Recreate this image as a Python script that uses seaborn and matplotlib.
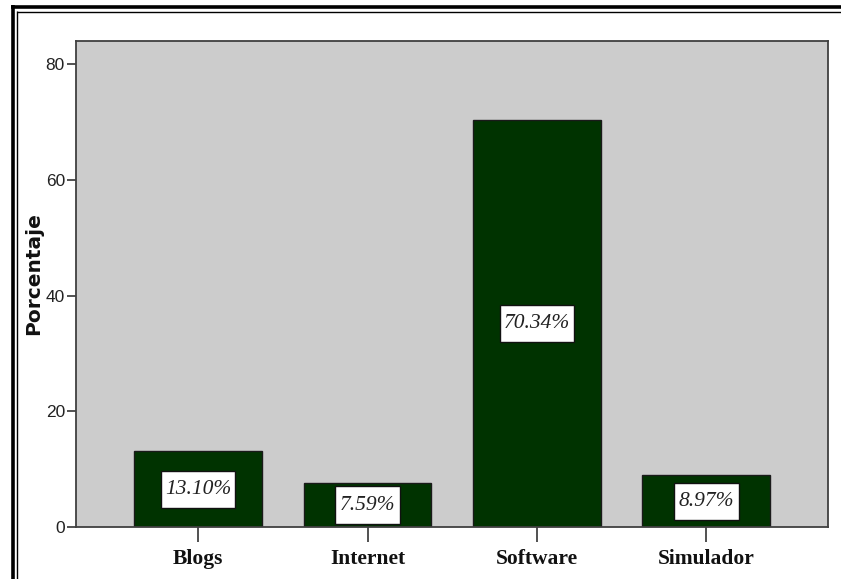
import matplotlib
matplotlib.use("Agg")
import matplotlib.pyplot as plt
from matplotlib.lines import Line2D
from matplotlib.path import Path
import seaborn as sns
import pandas as pd

categories = ["Blogs", "Internet", "Software", "Simulador"]
values = [13.10, 7.59, 70.34, 8.97]
value_labels = ["13.10%", "7.59%", "70.34%", "8.97%"]
y_ticks = [0, 20, 40, 60, 80]

df = pd.DataFrame({"cat": categories, "val": values})

sns.set_style("white")
W, H = 841, 579
fig = plt.figure(figsize=(W / 100, H / 100), dpi=100)
fig.patch.set_facecolor("white")

ax = fig.add_axes([76 / W, 1 - 527 / H, (828 - 76) / W, (527 - 40.7) / H])
sns.barplot(data=df, x="cat", y="val", order=categories, color="#003300",
            saturation=1, width=0.755, edgecolor="#1a1a1a", linewidth=1.0, ax=ax)
ax.set_facecolor("#cccccc")
ax.set_xlim(-0.72, 3.717)
ax.set_ylim(0, 84.03)
ax.set_yticks(y_ticks)
ax.set_yticklabels([str(t) for t in y_ticks],
                   fontdict={"family": ["Liberation Sans Narrow", "Liberation Sans"], "size": 12.5},
                   color="#222222")
ax.set_xticks(range(len(categories)))
ax.set_xticklabels(categories,
                   fontdict={"family": ["Liberation Serif", "DejaVu Serif"], "size": 15.5,
                             "weight": "bold"}, color="#111111")
ax.tick_params(axis="y", direction="out", length=6.5, width=1.2, color="#333333", pad=1.5, left=True)
ax.tick_params(axis="x", direction="out", length=10.8, width=1.2, color="#333333", pad=5, bottom=True)
ax.set_xlabel("")
ax.set_ylabel("Porcentaje", fontdict={"family": ["DejaVu Sans"], "size": 14.5, "weight": "bold"},
              color="#111111")
ax.yaxis.set_label_coords(-0.044, 0.522)
for s in ax.spines.values():
    s.set_visible(True)
    s.set_color("#404040")
    s.set_linewidth(1.3)


def tall_box(x0, y0, width, height, mutation_size):
    px = 0.2 * mutation_size
    py = 0.42 * mutation_size
    x0, x1 = x0 - px, x0 + width + px
    y0, y1 = y0 - py, y0 + height + py
    return Path([(x0, y0), (x1, y0), (x1, y1), (x0, y1), (x0, y0)],
                [Path.MOVETO, Path.LINETO, Path.LINETO, Path.LINETO, Path.CLOSEPOLY])


for i, (v, lab) in enumerate(zip(values, value_labels)):
    ax.text(i, v / 2, lab, ha="center", va="center",
            fontdict={"family": ["Liberation Serif", "DejaVu Serif"], "size": 15.5, "style": "italic"},
            color="#222222",
            bbox=dict(boxstyle=tall_box, facecolor="white", edgecolor="#111111", linewidth=1.0))


def fx(px):
    return px / W


def fy(py):
    return 1 - py / H


# outer double frame (extends past right/bottom edge)
fig.add_artist(Line2D([fx(11), fx(845)], [fy(6.6), fy(6.6)], color="black", linewidth=2.6,
                      transform=fig.transFigure, solid_capstyle="butt"))
fig.add_artist(Line2D([fx(12.8), fx(12.8)], [fy(5), fy(585)], color="black", linewidth=2.6,
                      transform=fig.transFigure, solid_capstyle="butt"))
fig.add_artist(Line2D([fx(17), fx(845)], [fy(11.7), fy(11.7)], color="black", linewidth=1.0,
                      transform=fig.transFigure, solid_capstyle="butt"))
fig.add_artist(Line2D([fx(17.3), fx(17.3)], [fy(11.2), fy(585)], color="black", linewidth=1.0,
                      transform=fig.transFigure, solid_capstyle="butt"))

fig.savefig("out.png", dpi=100)
